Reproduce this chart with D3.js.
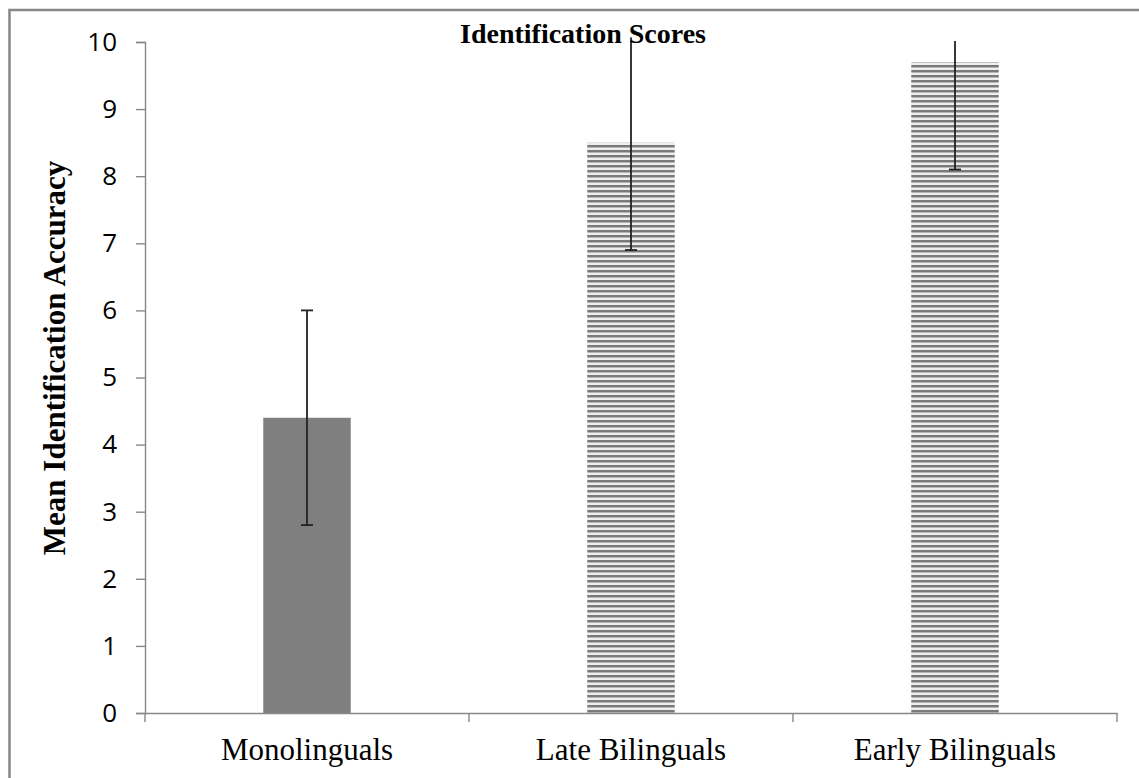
<!DOCTYPE html>
<html><head><meta charset="utf-8">
<script src="https://cdn.jsdelivr.net/npm/d3@7"></script>
<style>body{margin:0;background:#fff;}svg{display:block;}</style>
</head><body>
<script>
const categories = ["Monolinguals", "Late Bilinguals", "Early Bilinguals"];
const means = [4.4, 8.5, 9.7];
const errors = [1.6, 1.6, 1.6];
const fills = ["solid", "hatch", "hatch"];
const yTicks = [0,1,2,3,4,5,6,7,8,9,10];
const title = "Identification Scores";
const yTitle = "Mean Identification Accuracy";

(function () {
const W = 1139, H = 778;
const svg = d3.select("body").append("svg").attr("width", W).attr("height", H);

// outer chart border
svg.append("rect").attr("x", 9.5).attr("y", 10).attr("width", 1140).attr("height", 800)
  .attr("fill", "#fff").attr("stroke", "#878787").attr("stroke-width", 2.5);

const defs = svg.append("defs");
const pat = defs.append("pattern").attr("id", "hatch").attr("patternUnits", "userSpaceOnUse")
  .attr("width", 8).attr("height", 5);
pat.append("rect").attr("width", 8).attr("height", 5).attr("fill", "#eeeeee");
pat.append("rect").attr("y", 0).attr("width", 8).attr("height", 2).attr("fill", "#7a7a7a");
pat.append("rect").attr("y", 2).attr("width", 8).attr("height", 1).attr("fill", "#b5b5b5");

const pLeft = 145, pRight = 1117, pTop = 42, pBottom = 713;
const x = d3.scaleBand().domain(categories).range([pLeft, pRight]).paddingInner(0.73).paddingOuter(0.365);
const xOuter = d3.scaleBand().domain(categories).range([pLeft, pRight]);
const y = d3.scaleLinear().domain([0, 10]).range([pBottom, pTop]);

const clip = defs.append("clipPath").attr("id", "plotclip");
clip.append("rect").attr("x", pLeft).attr("y", pTop - 1).attr("width", pRight - pLeft).attr("height", pBottom - pTop + 1);

// bars
svg.append("g").selectAll("rect").data(categories).join("rect")
  .attr("x", d => x(d)).attr("width", x.bandwidth())
  .attr("y", (d, i) => y(means[i])).attr("height", (d, i) => y(0) - y(means[i]))
  .attr("fill", (d, i) => fills[i] === "solid" ? "#7f7f7f" : "url(#hatch)");

// y axis
const yAxis = svg.append("g").attr("transform", `translate(${pLeft},0)`)
  .call(d3.axisLeft(y).tickValues(yTicks).tickSize(9).tickPadding(19).tickFormat(d3.format("d")));
yAxis.select(".domain").attr("stroke", "#888").attr("stroke-width", 1.4);
yAxis.selectAll(".tick line").attr("stroke", "#888").attr("stroke-width", 1.4);
yAxis.selectAll("text").attr("font-family", "'Open Sans', 'Noto Sans', sans-serif")
  .attr("font-size", 26).attr("fill", "#000");

// x axis
const xAxis = svg.append("g").attr("transform", `translate(0,${pBottom})`)
  .call(d3.axisBottom(xOuter).tickSize(0).tickFormat(""));
xAxis.select(".domain").attr("stroke", "#888").attr("stroke-width", 1.4);
xAxis.selectAll(".tick").remove();
const bounds = categories.map(c => xOuter(c)).concat([pRight]);
xAxis.selectAll("line.sep").data(bounds).join("line").attr("class", "sep")
  .attr("x1", d => d).attr("x2", d => d).attr("y1", 0).attr("y2", 9)
  .attr("stroke", "#888").attr("stroke-width", 1.4);

// category labels
svg.append("g").selectAll("text").data(categories).join("text")
  .attr("x", d => xOuter(d) + xOuter.bandwidth() / 2).attr("y", 760)
  .attr("text-anchor", "middle").attr("font-family", "'Liberation Serif', 'Times New Roman', serif")
  .attr("font-size", 31).attr("fill", "#000").text(d => d);

// error bars
const eg = svg.append("g").attr("clip-path", "url(#plotclip)");
categories.forEach((c, i) => {
  const cx = x(c) + x.bandwidth() / 2;
  const lo = means[i] - errors[i], hi = means[i] + errors[i];
  eg.append("line").attr("x1", cx).attr("x2", cx).attr("y1", y(lo)).attr("y2", y(hi))
    .attr("stroke", "#222").attr("stroke-width", 1.8);
  [lo, hi].forEach(v => {
    eg.append("line").attr("x1", cx - 6).attr("x2", cx + 6).attr("y1", y(v)).attr("y2", y(v))
      .attr("stroke", "#222").attr("stroke-width", 1.8);
  });
});

// title
svg.append("text").attr("x", 583).attr("y", 43).attr("text-anchor", "middle")
  .attr("font-family", "'Liberation Serif', 'Times New Roman', serif").attr("font-weight", "bold")
  .attr("font-size", 28).attr("fill", "#000").text(title);

// y title
svg.append("text").attr("transform", `translate(65,358) rotate(-90)`).attr("text-anchor", "middle")
  .attr("font-family", "'Liberation Serif', 'Times New Roman', serif").attr("font-weight", "bold")
  .attr("font-size", 31).attr("fill", "#000").text(yTitle);
})();
</script>
</body></html>
